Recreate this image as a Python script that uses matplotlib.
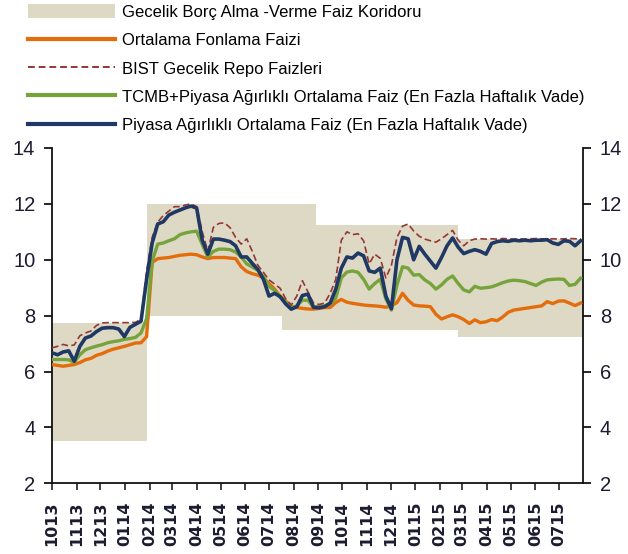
import numpy as np
import pandas as pd
import matplotlib
matplotlib.use("Agg")
import matplotlib.pyplot as plt
import matplotlib.dates as mdates
from matplotlib.patches import Patch
from matplotlib.lines import Line2D

plt.rcParams['font.family'] = ['Liberation Sans', 'DejaVu Sans']

# Weekly observations, Oct 2013 - Jul 2015
dates = pd.date_range('2013-10-01', periods=96, freq='7D')

# Interest rate corridor (overnight borrowing / lending), step changes
corridor_dates = pd.to_datetime(['2013-10-01', '2014-01-28', '2014-07-17',
                                 '2014-08-29', '2015-02-24', '2015-07-31'])
corridor_lower = [3.5, 8.0, 7.5, 7.5, 7.25, 7.25]
corridor_upper = [7.75, 12.0, 12.0, 11.25, 10.75, 10.75]

# Ortalama Fonlama Faizi
fonlama = [6.25, 6.22, 6.19, 6.22, 6.25, 6.32, 6.42, 6.47, 6.58, 6.64,
           6.73, 6.80, 6.85, 6.90, 6.96, 7.02, 7.03, 7.25, 9.90, 10.04,
           10.06, 10.08, 10.12, 10.16, 10.18, 10.20, 10.18, 10.10, 10.04, 10.08,
           10.08, 10.08, 10.06, 10.04, 9.75, 9.58, 9.50, 9.45, 9.35, 9.15,
           8.95, 8.70, 8.52, 8.33, 8.29, 8.26, 8.24, 8.23, 8.26, 8.29,
           8.29, 8.47, 8.58, 8.48, 8.44, 8.41, 8.38, 8.36, 8.35, 8.33,
           8.30, 8.35, 8.47, 8.80, 8.55, 8.38, 8.35, 8.34, 8.32, 8.05,
           7.88, 7.96, 8.03, 7.96, 7.86, 7.72, 7.85, 7.75, 7.78, 7.86,
           7.82, 7.95, 8.12, 8.20, 8.23, 8.26, 8.29, 8.32, 8.35, 8.50,
           8.43, 8.52, 8.53, 8.45, 8.36, 8.45]

# BIST Gecelik Repo Faizleri
bist_repo = [6.85, 6.90, 6.97, 6.92, 6.95, 7.28, 7.38, 7.45, 7.65, 7.74,
             7.75, 7.75, 7.75, 7.75, 7.75, 7.76, 7.87, 9.60, 10.80, 11.35,
             11.58, 11.74, 11.90, 11.90, 11.96, 12.00, 11.90, 11.00, 10.30, 11.16,
             11.30, 11.32, 11.15, 10.80, 10.56, 10.75, 10.30, 9.80, 9.55, 9.28,
             9.13, 8.98, 8.60, 8.38, 8.70, 9.25, 8.85, 8.45, 8.40, 8.45,
             8.80, 9.30, 10.70, 11.00, 10.90, 10.93, 10.68, 9.85, 10.20, 10.05,
             9.35, 9.80, 10.80, 11.20, 11.28, 11.03, 10.84, 10.74, 10.68, 10.63,
             10.75, 10.90, 11.05, 10.70, 10.50, 10.68, 10.74, 10.75, 10.74, 10.75,
             10.74, 10.76, 10.75, 10.74, 10.75, 10.74, 10.75, 10.76, 10.75, 10.74,
             10.75, 10.74, 10.75, 10.76, 10.75, 10.74]

# TCMB+Piyasa Ağırlıklı Ortalama Faiz
tcmb_piyasa = [6.43, 6.43, 6.43, 6.42, 6.33, 6.60, 6.78, 6.85, 6.91, 6.96,
               7.03, 7.07, 7.10, 7.15, 7.18, 7.22, 7.38, 7.90, 9.95, 10.56,
               10.60, 10.68, 10.75, 10.90, 10.96, 11.00, 11.02, 10.55, 10.10, 10.30,
               10.38, 10.38, 10.36, 10.28, 10.10, 9.85, 9.74, 9.62, 9.40, 9.05,
               8.90, 8.66, 8.50, 8.29, 8.35, 8.55, 8.55, 8.30, 8.33, 8.35,
               8.42, 8.63, 9.35, 9.56, 9.60, 9.55, 9.30, 8.95, 9.15, 9.30,
               8.60, 8.20, 9.10, 9.75, 9.70, 9.45, 9.47, 9.28, 9.15, 8.95,
               9.10, 9.30, 9.42, 9.15, 8.92, 8.85, 9.05, 8.98, 9.00, 9.03,
               9.10, 9.18, 9.24, 9.27, 9.25, 9.22, 9.15, 9.08, 9.20, 9.28,
               9.30, 9.31, 9.30, 9.08, 9.12, 9.34]

# Piyasa Ağırlıklı Ortalama Faiz
piyasa = [6.67, 6.60, 6.70, 6.74, 6.37, 6.90, 7.20, 7.27, 7.43, 7.55,
          7.57, 7.57, 7.52, 7.25, 7.58, 7.69, 7.80, 9.30, 10.60, 11.28,
          11.36, 11.60, 11.70, 11.78, 11.86, 11.92, 11.85, 10.70, 10.20, 10.74,
          10.74, 10.70, 10.65, 10.50, 10.10, 10.10, 9.87, 9.65, 9.30, 8.70,
          8.80, 8.68, 8.42, 8.23, 8.32, 8.72, 8.77, 8.30, 8.28, 8.32,
          8.45, 8.95, 9.70, 10.10, 10.06, 10.24, 10.14, 9.60, 9.55, 9.70,
          8.70, 8.25, 10.00, 10.80, 10.75, 10.00, 10.48, 10.20, 9.95, 9.70,
          10.08, 10.50, 10.78, 10.45, 10.22, 10.30, 10.36, 10.30, 10.20, 10.58,
          10.65, 10.68, 10.66, 10.70, 10.68, 10.70, 10.68, 10.70, 10.70, 10.72,
          10.60, 10.55, 10.68, 10.66, 10.50, 10.68]

labels = ['Gecelik Borç Alma -Verme Faiz Koridoru',
          'Ortalama Fonlama Faizi',
          'BIST Gecelik Repo Faizleri',
          'TCMB+Piyasa Ağırlıklı Ortalama Faiz (En Fazla Haftalık Vade)',
          'Piyasa Ağırlıklı Ortalama Faiz (En Fazla Haftalık Vade)']

BAND = '#ddd9c4'
ORANGE = '#e46c0a'
RED = '#953735'
GREEN = '#77a33c'
NAVY = '#1f3864'
TICK_COLOR = '#1c1c30'


def main():
    fig = plt.figure(figsize=(6.28, 5.54), dpi=100)
    ax = fig.add_axes([0.0828, 0.1276, 0.8455, 0.6053])

    # corridor band
    ax.fill_between(corridor_dates, corridor_lower, corridor_upper,
                    step='post', color=BAND, linewidth=0, zorder=1)

    ax.plot(dates, fonlama, color=ORANGE, lw=2.4, zorder=3)
    ax.plot(dates, tcmb_piyasa, color=GREEN, lw=2.4, zorder=4)
    ax.plot(dates, bist_repo, color=RED, lw=1.2, ls=(0, (4, 2)), zorder=4.5)
    ax.plot(dates, piyasa, color=NAVY, lw=2.6, zorder=5)

    ax.set_xlim(pd.Timestamp('2013-10-01'), pd.Timestamp('2015-07-31'))
    ax.set_ylim(2, 14)
    ax.set_yticks(np.arange(2, 15, 2))

    ax.xaxis.set_major_locator(mdates.MonthLocator())
    ax.xaxis.set_major_formatter(mdates.DateFormatter('%m%y'))
    ax.tick_params(axis='x', direction='out', length=5, width=1.2, pad=8,
                   labelrotation=90, colors='#222222')
    for lbl in ax.get_xticklabels():
        lbl.set_fontfamily('DejaVu Sans')
        lbl.set_fontweight('bold')
        lbl.set_fontsize(11.5)
        lbl.set_color(TICK_COLOR)

    ax.yaxis.set_ticks_position('both')
    ax.tick_params(axis='y', which='both', direction='out', length=6, width=1.2,
                   labelleft=True, labelright=True, labelsize=14.5,
                   labelcolor=TICK_COLOR, pad=6)

    ax.spines['top'].set_visible(False)
    for side in ['left', 'right', 'bottom']:
        ax.spines[side].set_linewidth(1.3)
        ax.spines[side].set_color('#111111')

    handles = [Patch(facecolor=BAND, edgecolor='none'),
               Line2D([], [], color=ORANGE, lw=3),
               Line2D([], [], color=RED, lw=1.4, ls=(0, (3.5, 2))),
               Line2D([], [], color=GREEN, lw=3),
               Line2D([], [], color=NAVY, lw=3)]
    fig.legend(handles, labels, loc='upper left',
               bbox_to_anchor=(28 / 628, 1 - 4 / 554), frameon=False,
               fontsize=12, handlelength=5.2, handleheight=0.96,
               handletextpad=0.45, labelspacing=0.74,
               borderpad=0, borderaxespad=0)

    fig.savefig('out.png', dpi=100)
    plt.close(fig)


if __name__ == "__main__":
    main()
